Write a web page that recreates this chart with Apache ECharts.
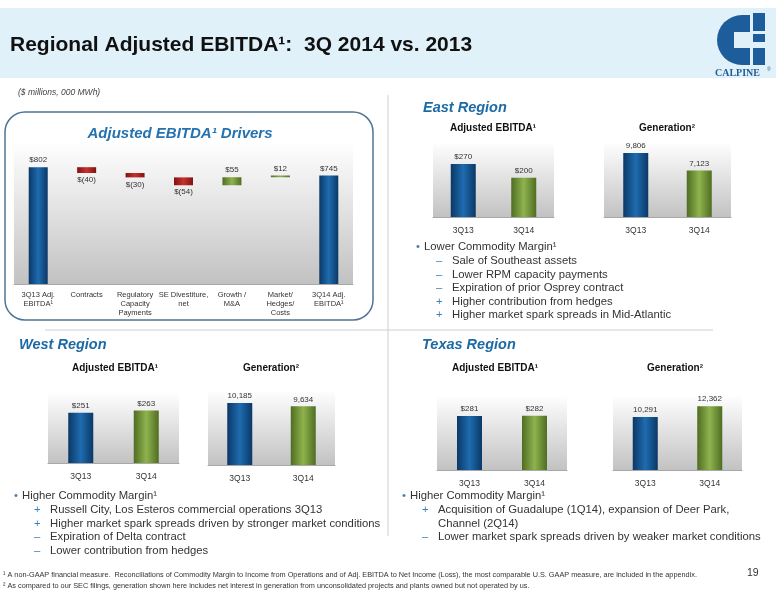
<!DOCTYPE html>
<html>
<head>
<meta charset="utf-8">
<script src="https://cdn.jsdelivr.net/npm/echarts@6/dist/echarts.min.js"></script>
<style>
html,body{margin:0;padding:0;background:#fff;}
#main{width:776px;height:600px;}
</style>
</head>
<body>
<div id="main"></div>
<script>
// waterfall data
var driverCats = ['3Q13 Adj.\nEBITDA¹', 'Contracts', 'Regulatory\nCapacity\nPayments', 'SE Divestiture,\nnet', 'Growth /\nM&A', 'Market/\nHedges/\nCosts', '3Q14 Adj.\nEBITDA¹'];
var driverVals = [802, -40, -30, -54, 55, 12, 745];
var driverIsTotal = [true, false, false, false, false, false, true];

// regional data
var periods = ['3Q13', '3Q14'];
var eastEbitda = [270, 200];
var eastGen = [9806, 7123];
var westEbitda = [251, 263];
var westGen = [10185, 9634];
var texasEbitda = [281, 282];
var texasGen = [10291, 12362];

var myChart = echarts.init(document.getElementById('main'));

function hGrad(c1, c2) {
    return new echarts.graphic.LinearGradient(0, 0, 1, 0, [
        {offset: 0, color: c1}, {offset: 0.5, color: c2}, {offset: 1, color: c1}
    ]);
}
var blue = hGrad('#0b3866', '#1e6cb0');
var green = hGrad('#4f6d22', '#8fb34e');
var red = hGrad('#7d1414', '#c8302c');
var bgGrad = new echarts.graphic.LinearGradient(0, 0, 0, 1, [
    {offset: 0, color: '#ffffff'}, {offset: 1, color: '#c2c2c2'}
]);

// build waterfall base/height from the drivers
var wfBase = [], wfBar = [];
var running = 0;
driverVals.forEach(function (v, i) {
    if (driverIsTotal[i]) {
        wfBase.push(0);
        wfBar.push({value: v, itemStyle: {color: blue}, label: {position: 'top'}});
        running = v;
    } else if (v < 0) {
        wfBase.push(running + v);
        wfBar.push({value: -v, itemStyle: {color: red}, label: {position: 'bottom'}});
        running += v;
    } else {
        wfBase.push(running);
        wfBar.push({value: v, itemStyle: {color: green}, label: {position: 'top'}});
        running += v;
    }
});

function money(v) { return v < 0 ? '$(' + (-v) + ')' : '$' + v; }
function thou(v) { return v.toLocaleString('en-US'); }

var grids = [
    {left: 14, top: 142, width: 339, height: 142},
    {left: 433, top: 142, width: 121, height: 75},
    {left: 604, top: 142, width: 127, height: 75},
    {left: 48, top: 392, width: 131, height: 71},
    {left: 208, top: 390, width: 127, height: 75},
    {left: 437, top: 395, width: 130, height: 75},
    {left: 613, top: 395, width: 129, height: 75}
];
var maxes = [975, 382, 11490, 355, 12320, 390, 14550];

var xAxes = [], yAxes = [];
grids.forEach(function (g, i) {
    g.show = true;
    g.borderWidth = 0;
    g.backgroundColor = bgGrad;
    xAxes.push({
        type: 'category', gridIndex: i,
        data: i === 0 ? driverCats : periods,
        axisTick: {show: false},
        axisLine: {lineStyle: {color: '#a8a8a8'}},
        axisLabel: i === 0
            ? {color: '#333', fontSize: 7.5, lineHeight: 9, margin: 6, interval: 0, fontFamily: 'Liberation Sans'}
            : {color: '#333', fontSize: 8.5, margin: 9, fontFamily: 'Liberation Sans'}
    });
    yAxes.push({type: 'value', gridIndex: i, min: 0, max: maxes[i], show: false, splitLine: {show: false}});
});

var lbl = {show: true, color: '#333', fontSize: 8, distance: 3, fontFamily: 'Liberation Sans'};

function pair(idx, vals, fmt) {
    return {
        type: 'bar', xAxisIndex: idx, yAxisIndex: idx, barWidth: 25,
        data: [{value: vals[0], itemStyle: {color: blue}}, {value: vals[1], itemStyle: {color: green}}],
        label: Object.assign({}, lbl, {position: 'top', formatter: function (p) { return fmt(p.value); }})
    };
}

var series = [
    {type: 'bar', stack: 'wf', xAxisIndex: 0, yAxisIndex: 0, barWidth: 19, data: wfBase,
        itemStyle: {color: 'rgba(0,0,0,0)'}, silent: true},
    {type: 'bar', stack: 'wf', xAxisIndex: 0, yAxisIndex: 0, barWidth: 19, data: wfBar,
        label: Object.assign({}, lbl, {formatter: function (p) { return money(driverVals[p.dataIndex]); }})},
    pair(1, eastEbitda, money),
    pair(2, eastGen, thou),
    pair(3, westEbitda, money),
    pair(4, westGen, thou),
    pair(5, texasEbitda, money),
    pair(6, texasGen, thou)
];

var F = 'Liberation Sans';
function txt(x, y, s, st) {
    return {type: 'text', left: x, top: y, style: Object.assign({text: s, fill: '#333', font: '11.3px ' + F}, st || {})};
}
function ctxt(cx, y, s, st) {
    return {type: 'text', x: cx, y: y, style: Object.assign({text: s, fill: '#111', font: 'bold 10px ' + F, textAlign: 'center'}, st || {})};
}
var regionFont = 'italic bold 14.5px ' + F;
var regionColor = '#1d6aa5';
var signColor = '#3f7fb5';

function bullets(x, y, head, items) {
    var els = [txt(x, y, '•', {fill: '#3f7fb5'}), txt(x + 8, y, head)];
    items.forEach(function (it, k) {
        var yy = y + 14.5 + k * 13.5;
        if (it[0]) els.push(txt(x + 20, yy, it[0], {fill: signColor}));
        els.push(txt(x + 36, yy, it[1]));
    });
    return els;
}

var logoBlue = '#1e5d9b';
var graphics = [
    {type: 'rect', shape: {x: 0, y: 8, width: 776, height: 70}, style: {fill: '#e1f1fa'}, z: -10},
    txt(10, 35, 'Regional Adjusted EBITDA¹:  3Q 2014 vs. 2013', {fill: '#111', font: 'bold 21px ' + F}),
    // logo
    {type: 'sector', shape: {cx: 742, cy: 40, r: 25, r0: 0, startAngle: Math.PI / 2, endAngle: Math.PI * 1.5}, style: {fill: logoBlue}},
    {type: 'rect', shape: {x: 742, y: 15, width: 8, height: 50}, style: {fill: logoBlue}},
    {type: 'rect', shape: {x: 734, y: 32, width: 16, height: 16}, style: {fill: '#e1f1fa'}},
    {type: 'rect', shape: {x: 753, y: 13, width: 12, height: 18}, style: {fill: logoBlue}},
    {type: 'rect', shape: {x: 753, y: 34, width: 12, height: 8}, style: {fill: logoBlue}},
    {type: 'rect', shape: {x: 753, y: 48, width: 12, height: 17}, style: {fill: logoBlue}},
    txt(715, 68, 'CALPINE', {fill: logoBlue, font: 'bold 10px "Liberation Serif"'}),
    txt(767, 67, '®', {fill: logoBlue, font: '5px ' + F}),
    txt(18, 88, '($ millions, 000 MWh)', {fill: '#444', font: 'italic 8.5px ' + F}),
    // separators
    {type: 'line', shape: {x1: 388, y1: 95, x2: 388, y2: 536}, style: {stroke: '#cfcfcf', lineWidth: 1}},
    {type: 'line', shape: {x1: 45, y1: 330, x2: 713, y2: 330}, style: {stroke: '#cfcfcf', lineWidth: 1}},
    // driver box
    {type: 'rect', shape: {x: 5, y: 112, width: 368, height: 208, r: 20}, style: {fill: 'rgba(0,0,0,0)', stroke: '#4f7596', lineWidth: 1.5}},
    ctxt(180, 126, 'Adjusted EBITDA¹ Drivers', {fill: '#2472b0', font: 'italic bold 15px ' + F}),
    // region titles
    txt(423, 100, 'East Region', {fill: regionColor, font: regionFont}),
    txt(19, 337, 'West Region', {fill: regionColor, font: regionFont}),
    txt(422, 337, 'Texas Region', {fill: regionColor, font: regionFont}),
    ctxt(493, 123, 'Adjusted EBITDA¹'),
    ctxt(667, 123, 'Generation²'),
    ctxt(115, 363, 'Adjusted EBITDA¹'),
    ctxt(271, 363, 'Generation²'),
    ctxt(495, 363, 'Adjusted EBITDA¹'),
    ctxt(675, 363, 'Generation²'),
    // footnotes
    txt(3, 571, '¹ A non-GAAP financial measure.  Reconciliations of Commodity Margin to Income from Operations and of Adj. EBITDA to Net Income (Loss), the most comparable U.S. GAAP measure, are included in the appendix.', {font: '7.3px ' + F}),
    txt(3, 582, '² As compared to our SEC filings, generation shown here includes net interest in generation from unconsolidated projects and plants owned but not operated by us.', {font: '7.3px ' + F}),
    txt(747, 568, '19', {font: '10.5px ' + F})
];

graphics = graphics
    .concat(bullets(416, 241, 'Lower Commodity Margin¹', [
        ['–', 'Sale of Southeast assets'],
        ['–', 'Lower RPM capacity payments'],
        ['–', 'Expiration of prior Osprey contract'],
        ['+', 'Higher contribution from hedges'],
        ['+', 'Higher market spark spreads in Mid-Atlantic']
    ]))
    .concat(bullets(14, 490, 'Higher Commodity Margin¹', [
        ['+', 'Russell City, Los Esteros commercial operations 3Q13'],
        ['+', 'Higher market spark spreads driven by stronger market conditions'],
        ['–', 'Expiration of Delta contract'],
        ['–', 'Lower contribution from hedges']
    ]))
    .concat(bullets(402, 490, 'Higher Commodity Margin¹', [
        ['+', 'Acquisition of Guadalupe (1Q14), expansion of Deer Park,'],
        ['', 'Channel (2Q14)'],
        ['–', 'Lower market spark spreads driven by weaker market conditions']
    ]));

var option = {
    animation: false,
    backgroundColor: '#fff',
    grid: grids,
    xAxis: xAxes,
    yAxis: yAxes,
    series: series,
    graphic: graphics
};
myChart.setOption(option);
</script>
</body>
</html>
